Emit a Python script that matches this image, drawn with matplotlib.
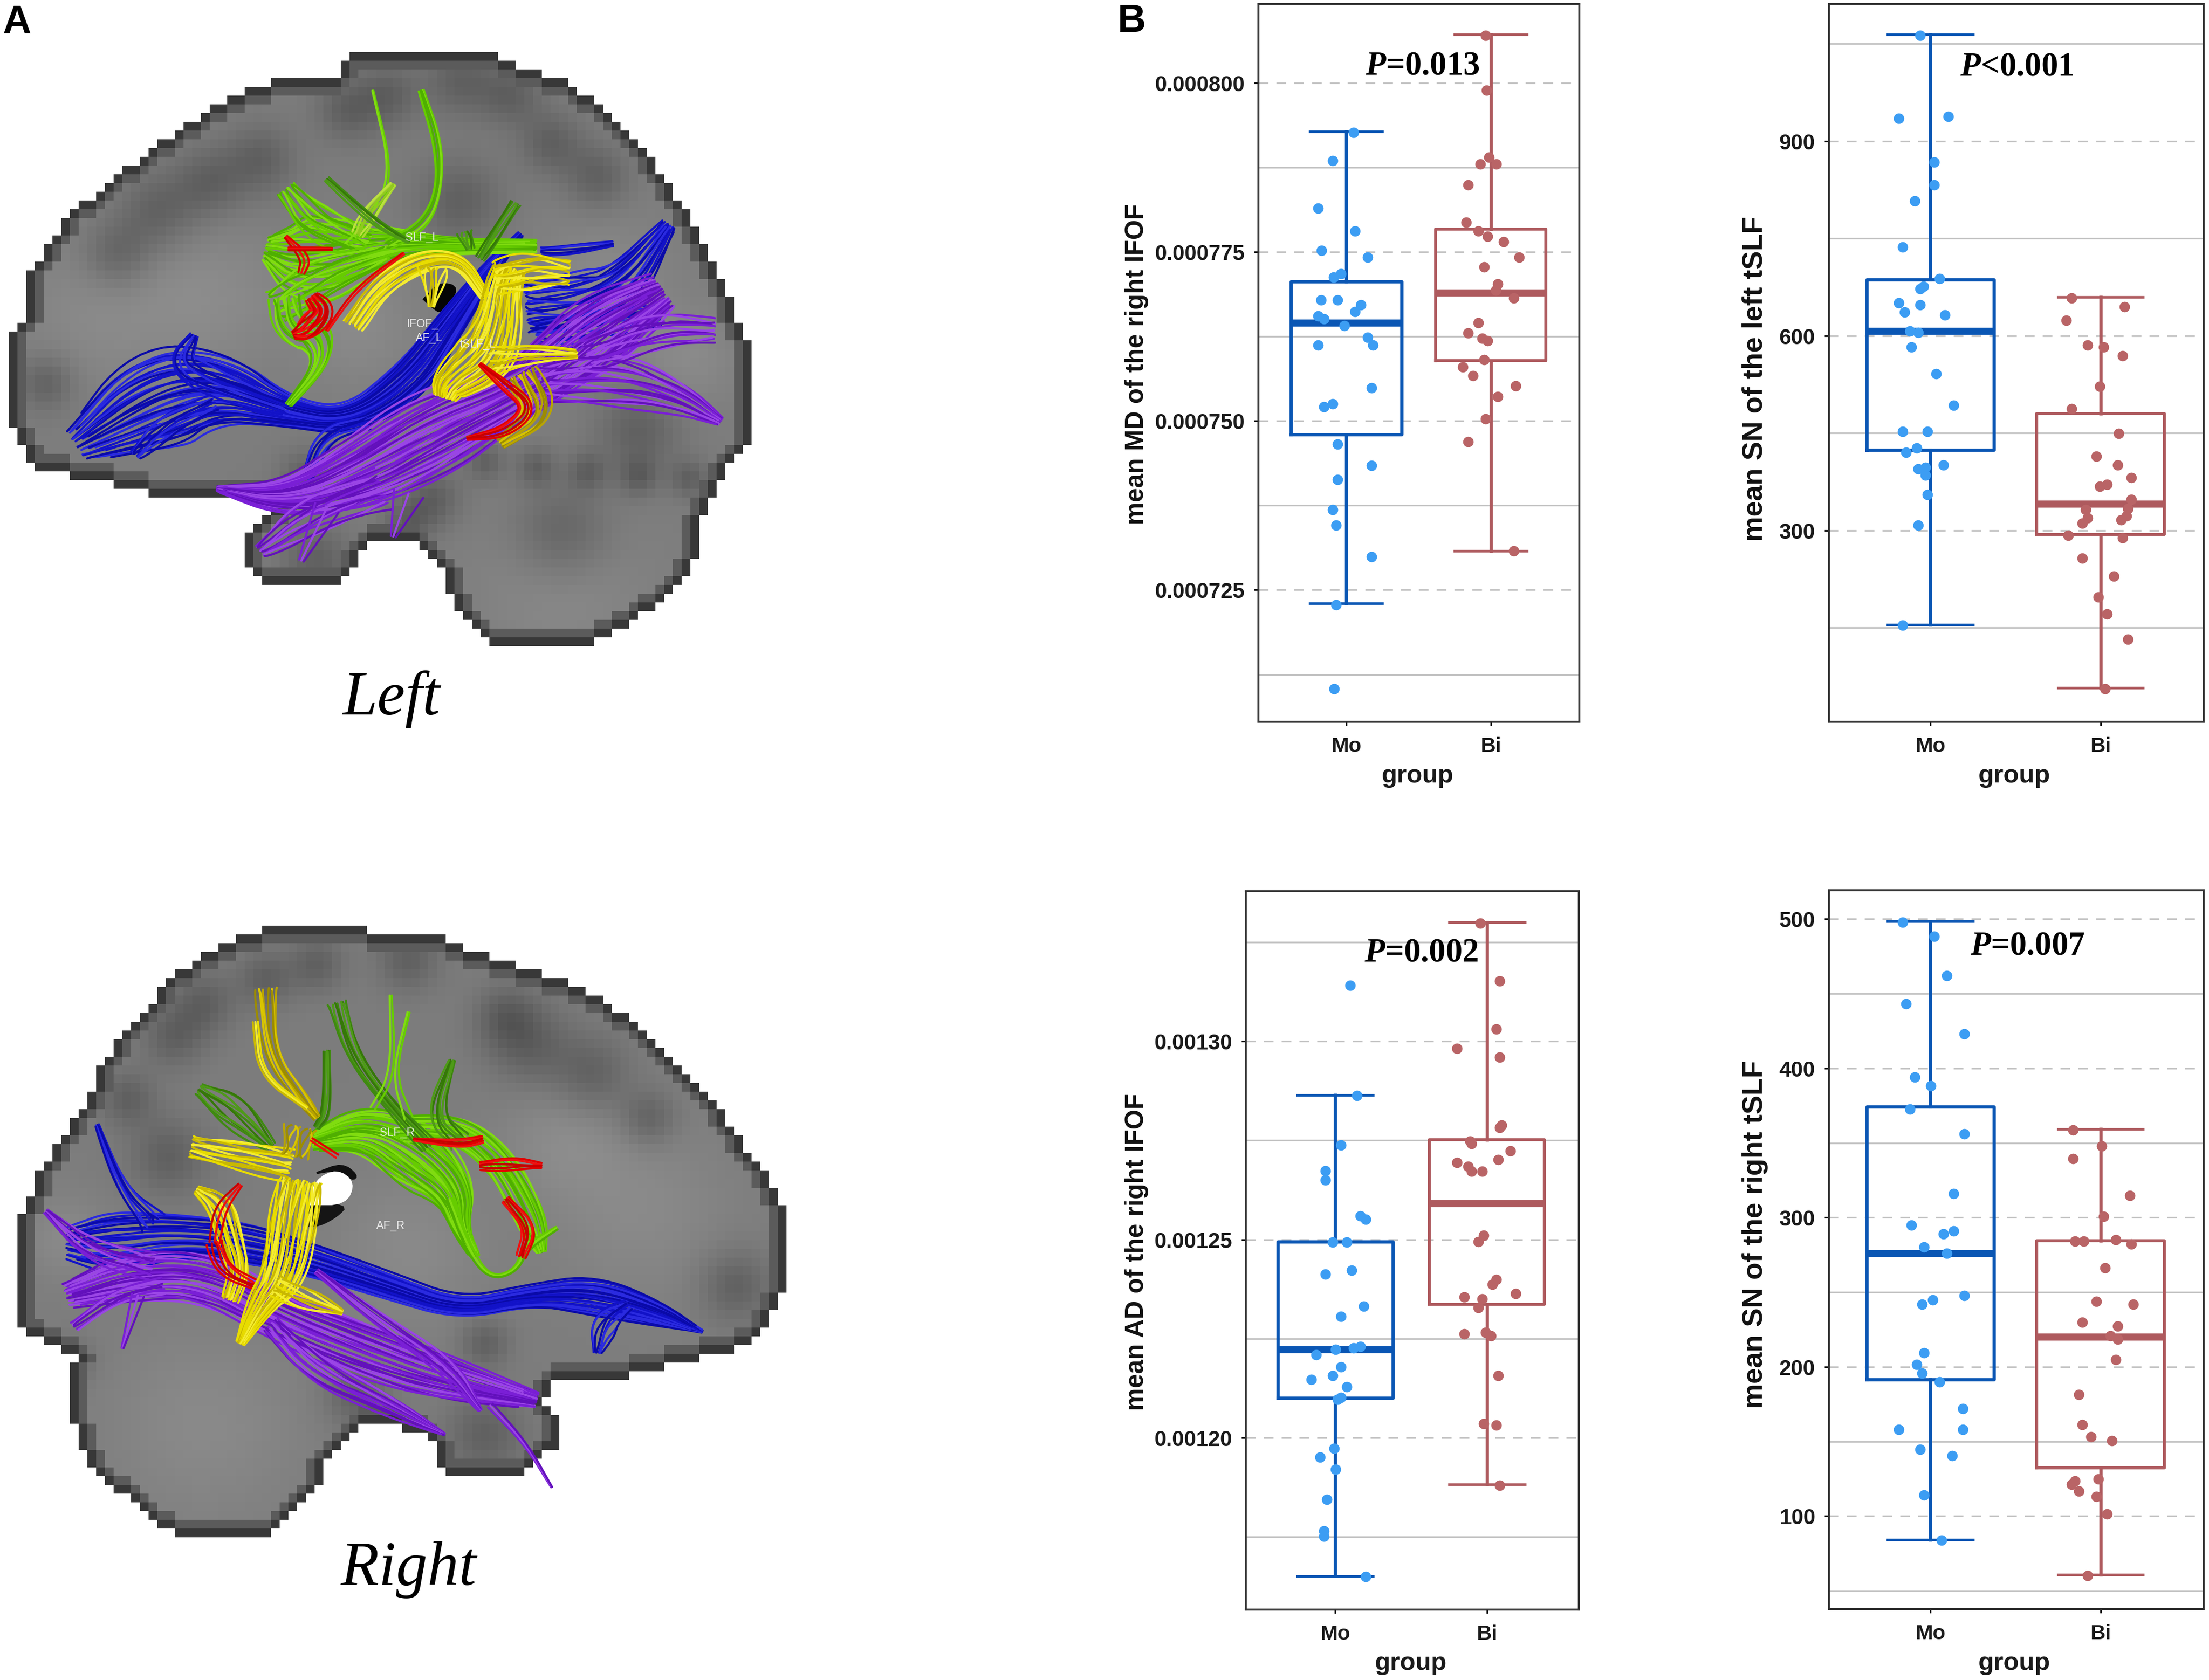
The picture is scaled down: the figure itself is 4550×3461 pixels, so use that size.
import numpy as np
import matplotlib
matplotlib.use('Agg')
import matplotlib.pyplot as plt
from matplotlib.path import Path

plt.rcParams['font.family'] = ['Liberation Sans', 'DejaVu Sans']
plt.rcParams['mathtext.fontset'] = 'custom'
plt.rcParams['mathtext.it'] = 'Liberation Serif:italic:bold'
plt.rcParams['mathtext.rm'] = 'Liberation Serif:bold'

W, H = 4550, 3462
DPI = 300

MO_LINE, MO_DOT = '#0A56B4', '#3C9DF3'
BI_LINE, BI_DOT = '#AE5A5E', '#B96466'
GRID = '#C2C2C2'

groups = ['Mo', 'Bi']

# mean MD of the right IFOF (units of 1e-6)
md_ticks = [725, 750, 775, 800]
md_ticklabels = ['0.000725', '0.000750', '0.000775', '0.000800']
md_minor = [712.5, 737.5, 762.5, 787.5]
md_ylim = [705.5, 811.7]
md_mo_box = [723.0, 748.0, 764.5, 770.6, 792.8]
md_bi_box = [730.8, 758.9, 769.0, 778.4, 807.2]
md_mo_y = [792.7, 788.5, 781.5, 778.1, 775.2, 774.2, 771.8, 771.3, 767.9, 767.9, 767.2, 766.2, 765.5, 765.1, 764.1,
           762.4, 761.2, 761.2, 754.9, 752.5, 752.1, 746.6, 743.4, 741.3, 736.9, 734.6, 729.9, 722.8, 710.4]
md_mo_jit = [.05, -.094, -.193, .061, -.169, .148, -.035, -.085, -.174, -.059, .101, .061, -.193, -.153, -.012,
             .148, -.193, .184, .174, -.094, -.155, -.059, .174, -.059, -.094, -.071, .174, -.071, -.082]
md_bi_y = [807.0, 798.9, 789.0, 788.0, 788.0, 784.9, 779.4, 778.1, 777.3, 776.5, 774.2, 772.8, 770.3, 769.3,
           768.2, 764.5, 763.0, 762.2, 761.9, 759.1, 758.0, 756.7, 755.2, 753.6, 750.3, 746.9, 730.8]
md_bi_jit = [-.035, -.028, -.012, -.073, .038, -.158, -.169, -.087, -.024, .087, .195, -.047, .047, .035,
             .16, -.087, -.158, -.059, -.024, -.047, -.195, -.122, .172, .049, -.035, -.158, .16]

# mean SN of the left tSLF
snl_ticks = [300, 600, 900]
snl_ticklabels = ['300', '600', '900']
snl_minor = [150, 450, 750, 1050]
snl_ylim = [4.9, 1111.6]
snl_mo_box = [154.9, 424.1, 607.3, 686.8, 1064.6]
snl_bi_box = [57.6, 293.5, 340.6, 480.0, 660.0]
snl_mo_y = [1063, 934.9, 938.1, 867.6, 832.7, 807.6, 737, 688.4, 676.2, 672.2, 650.3, 647.8, 636.5, 631.6, 607.3,
            604.9, 582.2, 541.6, 493, 452.4, 452.4, 427.3, 420, 400.5, 394.9, 397.3, 385.1, 355.1, 308.1, 154.1]
snl_mo_jit = [-.06, -.184, .106, .022, .022, -.09, -.162, .054, -.04, -.06, -.184, -.06, -.152, .086, -.12,
              -.07, -.11, .034, .138, -.162, -.018, -.08, -.142, .076, -.07, -.028, -.028, -.018, -.07, -.162]
snl_bi_y = [658.4, 644.6, 623.5, 585.4, 582.2, 569.2, 522.2, 487.3, 449.2, 414.3, 400.5, 381.1, 370.5, 368.1, 347.9,
            331.6, 333.3, 319.5, 321.9, 316.2, 310.6, 291.9, 288.7, 257, 229.5, 197, 171, 132.2, 55.9]
snl_bi_jit = [-.17, .14, -.2, -.076, .018, .13, -.004, -.17, .108, -.024, .1, .182, .038, -.004, .182,
              -.086, .162, -.076, .152, .12, -.108, -.19, .13, -.108, .078, -.014, .038, .162, .028]

# mean AD of the right IFOF (units of 1e-6)
ad_ticks = [1200, 1250, 1300]
ad_ticklabels = ['0.00120', '0.00125', '0.00130']
ad_minor = [1175, 1225, 1275, 1325]
ad_ylim = [1156.6, 1337.9]
ad_mo_box = [1165.1, 1210.0, 1222.2, 1249.5, 1286.4]
ad_bi_box = [1188.2, 1233.6, 1259.1, 1275.2, 1330.0]
ad_mo_y = [1314.1, 1286.3, 1273.8, 1267.4, 1265, 1256, 1255.1, 1249.3, 1249.3, 1241.2, 1242.2, 1233.2, 1230.6, 1222.2,
           1222.6, 1223, 1220.9, 1217.8, 1215.6, 1214.7, 1212.8, 1210.1, 1209.7, 1197.3, 1195.1, 1192, 1184.4,
           1176.4, 1175.1, 1164.9]
ad_mo_jit = [.097, .144, .038, -.065, -.065, .166, .202, -.018, .074, -.065, .108, .189, .038, .002,
             .119, .166, -.126, .038, -.018, -.16, .074, .038, .013, -.009, -.101, .002, -.056,
             -.076, -.076, .202]
ad_bi_y = [1329.8, 1315.2, 1303.1, 1298.2, 1296, 1278.9, 1278.2, 1274.8, 1274.2, 1272.4, 1270.2, 1269.4, 1268.4,
           1267.2, 1267.2, 1251.1, 1249.4, 1239.9, 1238.7, 1235.5, 1235, 1236.4, 1232.8, 1226.2, 1226.6, 1225.7,
           1215.6, 1203.5, 1203.1, 1188]
ad_bi_jit = [-.043, .085, .063, -.196, .085, .097, .085, -.112, -.101, .155, .074, -.196, -.124,
             -.101, -.031, -.02, -.056, .063, .038, -.148, -.031, .191, -.056, -.148, -.009, .027,
             .074, -.02, .063, .085]

# mean SN of the right tSLF
snr_ticks = [100, 200, 300, 400, 500]
snr_ticklabels = ['100', '200', '300', '400', '500']
snr_minor = [50, 150, 250, 350, 450]
snr_ylim = [37.7, 519.3]
snr_mo_box = [84.2, 191.6, 275.9, 374.4, 498.6]
snr_bi_box = [60.8, 132.4, 220.2, 284.5, 359.2]
snr_mo_y = [497.9, 488.3, 462.1, 443.2, 423.2, 394, 388.1, 372.6, 356.1, 315.9, 294.9, 289, 291.1, 280.4, 275.9,
            244.9, 241.9, 247.7, 209.5, 201.6, 195.7, 189.9, 172, 157.9, 157.9, 144.8, 140.3, 114.2, 83.9]
snr_mo_jit = [-.162, .022, .096, -.142, .2, -.09, .002, -.12, .2, .138, -.11, .076, .138, -.038, .096,
              .014, -.048, .2, -.038, -.08, -.048, .054, .19, -.184, .19, -.06, .128, -.038, .066]
snr_bi_y = [358.5, 339.6, 347.9, 314.8, 300.7, 284.2, 284.2, 285.2, 282.1, 266.3, 243.9, 241.9, 229.8, 227.4,
            220.9, 218.4, 204.7, 181.3, 161.3, 153.1, 150.6, 124.8, 123.4, 121.4, 116.6, 113.1, 101.4, 60.1]
snr_bi_jit = [-.16, -.16, .006, .172, .018, -.15, -.098, .09, .182, .028, -.024, .192, -.108, .1,
              .058, .1, .09, -.128, -.108, -.056, .068, -.014, -.15, -.17, -.128, -.024, .038, -.076]

# brain outlines and tracts, in zoomed picture coordinates
left_outline = [(10, 700), (45, 680), (45, 595), (75, 550), (105, 490), (140, 450), (190, 400), (260, 345), (330, 290),
                (395, 240), (460, 205), (530, 170), (660, 165), (660, 145), (695, 115), (975, 115), (1040, 150),
                (1110, 170), (1180, 225), (1250, 300), (1320, 400), (1370, 490), (1410, 570), (1450, 680), (1478, 735),
                (1478, 910), (1440, 950), (1380, 1060), (1360, 1170), (1320, 1230), (1250, 1290), (1140, 1355),
                (965, 1355), (900, 1280), (870, 1200), (810, 1125), (720, 1135), (670, 1215), (530, 1230), (480, 1170),
                (490, 1095), (560, 1050), (540, 1030), (300, 1035), (240, 1015), (180, 1000), (80, 980), (50, 950),
                (10, 855)]
left_dark = [(310, 440, 55), (410, 380, 50), (510, 335, 50), (230, 530, 50), (680, 230, 45), (760, 200, 45),
             (900, 170, 50), (1000, 200, 45), (1080, 300, 45), (1170, 370, 45), (900, 420, 60), (90, 800, 40),
             (1250, 900, 60), (950, 965, 28), (1050, 975, 28), (1150, 985, 28), (1250, 995, 28), (1350, 1000, 28),
             (850, 1040, 40), (620, 1170, 50), (800, 1090, 35), (1100, 1110, 70), (600, 1000, 40)]
left_light = [(200, 650, 120), (420, 620, 110), (700, 680, 90), (1350, 750, 70), (1100, 1220, 120), (1180, 600, 100)]
left_ventricle = [(830, 625), (860, 590), (900, 600), (865, 655), (845, 640)]

right_outline = [(40, 715), (60, 670), (80, 620), (120, 560), (170, 470), (210, 380), (280, 290), (350, 205), (430, 150),
                 (490, 125), (545, 105), (710, 105), (720, 125), (860, 125), (900, 150), (1000, 190), (1110, 225),
                 (1230, 300), (1340, 410), (1420, 510), (1500, 630), (1535, 690), (1535, 860), (1500, 950), (1450, 990),
                 (1230, 1050), (1090, 1060), (1060, 1100), (1090, 1130), (1090, 1190), (1030, 1250), (870, 1255),
                 (850, 1180), (800, 1160), (720, 1145), (650, 1210), (610, 1300), (530, 1380), (350, 1385), (290, 1340),
                 (190, 1250), (150, 1180), (130, 1050), (150, 1000), (90, 985), (40, 940)]
right_dark = [(330, 590, 55), (1040, 360, 60), (1160, 420, 55), (520, 220, 40), (620, 190, 40), (800, 180, 45),
              (400, 270, 45), (340, 340, 45), (250, 470, 40), (990, 300, 45), (700, 1090, 45), (950, 1170, 55),
              (1440, 860, 50), (950, 980, 35), (140, 1020, 30), (1270, 510, 40)]
right_light = [(1250, 700, 130), (800, 780, 110), (400, 1150, 140), (130, 760, 60), (1100, 550, 90)]
right_hole = [(606, 690), (618, 640), (660, 618), (694, 645), (676, 690)]
right_shadow = [(600, 735), (600, 690), (680, 692), (660, 715), (625, 735)]
right_shadow2 = [(620, 625), (670, 605), (700, 630), (690, 640), (660, 618)]

BLUE = ['#1212C8', '#0A0AA8', '#2A2AE0']
PURPLE = ['#7A1FD6', '#6310BC', '#9A45E6']
YELLOW = ['#E8DC00', '#C9B800', '#F4EC30']
OLIVE = ['#B9A400', '#9C8C00', '#D8C400']
GREEN = ['#66CC00', '#4FAF00', '#80DC10']
DGREEN = ['#3F8A10', '#4E9A18', '#357808']
LIME = ['#A8D830', '#90C820', '#BCE040']
RED = ['#E00000', '#C80000', '#F01010']

left_tracts = [
    (BLUE, 40, [(150, 930, 35), (310, 830, 110), (430, 810, 75), (560, 860, 28), (680, 880, 24), (800, 800, 38),
                (880, 680, 28), (960, 560, 14), (1020, 490, 6)]),
    (BLUE, 10, [(380, 700, 8), (350, 760, 30), (420, 800, 30), (560, 850, 15)]),
    (BLUE, 8, [(265, 950, 12), (320, 890, 25), (420, 840, 15)]),
    (BLUE, 8, [(600, 1000, 10), (630, 910, 18), (720, 880, 15)]),
    (BLUE, 22, [(1030, 640, 55), (1130, 630, 60), (1220, 600, 45), (1310, 470, 14)]),
    (BLUE, 12, [(1050, 700, 25), (1200, 680, 40), (1290, 660, 18)]),
    (BLUE, 5, [(1060, 525, 8), (1130, 520, 10), (1200, 510, 5)]),
    (GREEN, 34, [(520, 520, 25), (600, 540, 95), (720, 520, 50), (800, 510, 25), (900, 515, 14), (1050, 515, 12)]),
    (GREEN, 14, [(560, 395, 20), (620, 470, 40), (720, 510, 25)]),
    (GREEN, 14, [(540, 640, 35), (620, 590, 50), (760, 530, 20)]),
    (GREEN, 14, [(565, 845, 6), (630, 760, 14), (620, 700, 40), (570, 680, 35), (560, 620, 30)]),
    (GREEN, 2, [(730, 190, 1), (770, 370, 2), (720, 470, 6), (680, 510, 4)]),
    (GREEN, 5, [(825, 190, 5), (860, 300, 8), (860, 400, 5), (830, 470, 10), (760, 510, 10)]),
    (LIME, 6, [(770, 385, 5), (720, 450, 18), (700, 490, 10)]),
    (DGREEN, 4, [(640, 375, 6), (740, 470, 8), (800, 505, 3)]),
    (DGREEN, 6, [(1010, 425, 10), (970, 490, 12), (940, 540, 8)]),
    (DGREEN, 5, [(910, 485, 14), (920, 520, 8)]),
    (RED, 3, [(560, 495, 3), (600, 540, 10), (590, 570, 6)]),
    (RED, 3, [(565, 520, 3), (610, 520, 3), (650, 520, 2)]),
    (RED, 14, [(575, 700, 8), (600, 690, 25), (635, 650, 22), (610, 620, 12)]),
    (YELLOW, 16, [(690, 680, 20), (740, 600, 20), (820, 545, 22), (900, 540, 14), (950, 620, 8)]),
    (RED, 2, [(640, 690, 2), (700, 600, 3), (790, 530, 2)]),
    (YELLOW, 7, [(845, 640, 6), (850, 560, 28)]),
    (PURPLE, 46, [(425, 1020, 5), (560, 1040, 35), (700, 990, 70), (850, 900, 85), (990, 830, 55), (1080, 770, 60),
                  (1180, 690, 75), (1300, 610, 40)]),
    (PURPLE, 12, [(510, 1150, 14), (600, 1080, 40), (750, 1020, 40)]),
    (PURPLE, 18, [(1060, 800, 40), (1200, 790, 60), (1330, 830, 30), (1410, 880, 8)]),
    (PURPLE, 12, [(1150, 740, 30), (1280, 690, 40), (1400, 690, 22)]),
    (PURPLE, 3, [(590, 1170, 5), (640, 1060, 25)]),
    (PURPLE, 3, [(770, 1120, 5), (800, 1030, 30)]),
    (YELLOW, 32, [(1000, 560, 30), (985, 600, 35), (975, 680, 45), (950, 750, 55), (880, 800, 35), (870, 830, 20)]),
    (YELLOW, 14, [(1115, 570, 25), (1040, 565, 40), (970, 580, 30)]),
    (YELLOW, 9, [(1130, 740, 8), (1040, 740, 20), (960, 750, 30)]),
    (OLIVE, 14, [(980, 925, 12), (1065, 860, 30), (1020, 780, 30)]),
    (RED, 5, [(915, 915, 3), (990, 900, 12), (1040, 850, 14), (985, 800, 10), (940, 760, 3)]),
]

right_tracts = [
    (GREEN, 40, [(610, 560, 18), (720, 530, 50), (820, 590, 65), (890, 660, 40), (900, 740, 15), (930, 800, 8)]),
    (GREEN, 20, [(780, 530, 25), (900, 530, 28), (980, 600, 30), (1040, 720, 30), (1060, 790, 8)]),
    (DGREEN, 10, [(660, 270, 18), (690, 380, 15), (760, 480, 10), (840, 570, 15)]),
    (GREEN, 2, [(765, 255, 2), (770, 420, 5), (730, 490, 5)]),
    (GREEN, 2, [(800, 290, 2), (770, 420, 3), (800, 510, 8)]),
    (DGREEN, 8, [(885, 390, 6), (850, 510, 18), (900, 560, 20)]),
    (DGREEN, 6, [(640, 370, 6), (640, 500, 10), (620, 530, 5)]),
    (DGREEN, 10, [(390, 450, 12), (450, 490, 40), (530, 570, 10)]),
    (GREEN, 3, [(880, 680, 6), (920, 790, 6), (960, 845, 3), (1010, 830, 3), (1030, 780, 6), (1090, 740, 3)]),
    (RED, 6, [(810, 555, 2), (900, 565, 10), (945, 555, 6)]),
    (RED, 5, [(940, 610, 8), (1000, 605, 15), (1060, 610, 5)]),
    (RED, 6, [(990, 680, 8), (1040, 740, 15), (1020, 800, 8)]),
    (BLUE, 30, [(1375, 955, 3), (1280, 915, 28), (1160, 880, 40), (1040, 880, 20), (900, 910, 20), (760, 860, 25),
                (620, 810, 30), (480, 770, 40), (340, 755, 40), (220, 770, 60), (130, 770, 30)]),
    (BLUE, 8, [(190, 525, 4), (240, 660, 10), (300, 730, 25)]),
    (BLUE, 8, [(1170, 1000, 8), (1180, 940, 30), (1230, 900, 10)]),
    (PURPLE, 36, [(130, 880, 25), (260, 840, 50), (400, 840, 50), (540, 920, 45), (700, 990, 50), (860, 1050, 45),
                  (1050, 1100, 15)]),
    (PURPLE, 10, [(90, 705, 5), (180, 790, 25), (300, 820, 25)]),
    (PURPLE, 6, [(145, 945, 10), (230, 880, 15), (320, 860, 15)]),
    (PURPLE, 3, [(240, 990, 2), (270, 880, 12)]),
    (PURPLE, 14, [(530, 940, 18), (620, 1040, 30), (760, 1110, 20), (870, 1170, 2)]),
    (PURPLE, 10, [(620, 830, 5), (740, 930, 15), (880, 1030, 20), (940, 1120, 3)]),
    (PURPLE, 3, [(1080, 1280, 1), (1030, 1190, 3), (960, 1110, 6)]),
    (OLIVE, 8, [(520, 240, 22), (530, 380, 12), (590, 470, 14), (620, 510, 6)]),
    (YELLOW, 3, [(500, 310, 5), (510, 420, 5), (600, 490, 3)]),
    (YELLOW, 14, [(375, 570, 22), (470, 590, 30), (570, 610, 30)]),
    (YELLOW, 14, [(385, 660, 8), (430, 690, 30), (450, 760, 24), (470, 830, 18), (450, 890, 15)]),
    (RED, 3, [(470, 650, 4), (430, 700, 12), (420, 770, 10)]),
    (RED, 5, [(420, 770, 15), (440, 830, 15), (500, 860, 10)]),
    (YELLOW, 28, [(590, 640, 40), (575, 720, 48), (555, 840, 42), (510, 900, 24), (470, 980, 8)]),
    (YELLOW, 8, [(670, 915, 5), (600, 890, 25), (540, 860, 20)]),
    (OLIVE, 9, [(590, 530, 30), (575, 590, 25)]),
    (RED, 2, [(610, 555, 3), (660, 590, 4)]),
]


def smooth(pts, rounds=3):
    # corner cutting so the tracts do not look like polylines
    for _ in range(rounds):
        a, b = pts[:-1], pts[1:]
        q = .75 * a + .25 * b
        r = .25 * a + .75 * b
        mid = np.empty((2 * len(a), pts.shape[1]))
        mid[0::2], mid[1::2] = q, r
        pts = np.vstack([pts[:1], mid, pts[-1:]])
    return pts


def draw_brain(bg, outline, dark, light, tracts, sx, sy, y0):
    # voxel slice
    vox = 18
    xs = np.arange(0, 1650, vox) + vox / 2
    ys = np.arange(y0, y0 + 1450, vox) + vox / 2
    X, Y = np.meshgrid(xs, ys)
    poly = np.array(outline, float) * [sx, sy] + [0, y0]
    mask = Path(poly).contains_points(np.c_[X.ravel(), Y.ravel()]).reshape(X.shape)
    img = np.full(X.shape, .49)
    for bx, by, r in dark:
        d2 = (X - bx * sx) ** 2 + (Y - by * sy - y0) ** 2
        img -= .11 * np.exp(-d2 / (2 * r * r))
    for bx, by, r in light:
        d2 = (X - bx * sx) ** 2 + (Y - by * sy - y0) ** 2
        img += .05 * np.exp(-d2 / (2 * r * r))
    inner = mask.copy()
    for s in [.22, .36]:
        eroded = inner & np.roll(inner, 1, 0) & np.roll(inner, -1, 0) & np.roll(inner, 1, 1) & np.roll(inner, -1, 1)
        img[inner & ~eroded] = np.minimum(img[inner & ~eroded], s)
        inner = eroded
    rgba = np.dstack([img, img, img, mask.astype(float)])
    bg.imshow(rgba, extent=[0, xs[-1] + vox / 2, ys[-1] + vox / 2, y0], interpolation='nearest', aspect='auto', zorder=1)

    # tracts: centre line + half width at each vertex gives the strands,
    # a small wobble and uneven end trims keep them from looking ruled
    z = 2
    for cols, n, spec in tracts:
        a = np.array(spec, float)
        c = smooth(a)
        tang = np.gradient(c[:, :2], axis=0)
        tang /= np.maximum(np.linalg.norm(tang, axis=1, keepdims=True), 1e-6)
        norm = np.c_[-tang[:, 1], tang[:, 0]]
        t = np.linspace(0, 1, len(c))
        for i, k in enumerate(np.linspace(-1, 1, n) if n > 1 else [0]):
            wob = k + .16 * np.sin(t * (5 + i % 4) + i * 1.7) if n > 3 else k
            p = c[:, :2] + norm * c[:, 2:3] * np.reshape(wob, (-1, 1) if n > 3 else (1, 1))
            cut0 = int(len(p) * .10 * ((i * 37) % 11) / 11) if n > 5 else 0
            cut1 = int(len(p) * .10 * ((i * 23) % 7) / 7) if n > 5 else 0
            p = p[cut0:len(p) - cut1]
            bg.plot(p[:, 0] * sx, p[:, 1] * sy + y0, color=cols[(i * 2 + i // 3) % 3], lw=1.05, zorder=z,
                    solid_capstyle='round')
            z += .001


def box_panel(frame, ylim, ticks, ticklabels, minor, mo_box, bi_box, mo_y, mo_jit, bi_y, bi_jit,
              xlim, box_w, ylabel, lab_size, lab_x, lab_y, group_x, group_y):
    x0, y0, x1, y1 = frame
    ax = fig.add_axes([x0 / W, 1 - y1 / H, (x1 - x0) / W, (y1 - y0) / H])
    ax.set_xlim(xlim)
    ax.set_ylim(ylim)
    ax.set_yticks(ticks)
    ax.set_yticklabels(ticklabels)
    ax.set_yticks(minor, minor=True)
    ax.set_xticks([1, 2])
    ax.set_xticklabels(groups)
    ax.grid(True, which='major', axis='y', color=GRID, lw=.8, ls=(0, (6, 5)))
    ax.grid(True, which='minor', axis='y', color=GRID, lw=.8)
    ax.set_axisbelow(True)
    ax.tick_params(axis='y', which='major', length=2.2, width=.8, pad=4.5, labelsize=10.7, labelcolor='#1A1A1A')
    ax.tick_params(axis='y', which='minor', length=0)
    ax.tick_params(axis='x', length=2, width=.8, pad=5.2, labelsize=10.3, labelcolor='#1A1A1A')
    for lab in ax.get_xticklabels() + ax.get_yticklabels():
        lab.set_fontweight('bold')
    for s in ax.spines.values():
        s.set_linewidth(1.0)
        s.set_color('#333333')

    for pos, vals, col, lw_box in [(1, mo_box, MO_LINE, 1.6), (2, bi_box, BI_LINE, 1.5)]:
        stats = [dict(whislo=vals[0], q1=vals[1], med=vals[2], q3=vals[3], whishi=vals[4], fliers=[])]
        ax.bxp(stats, positions=[pos], widths=box_w, capwidths=.5, showfliers=False, manage_ticks=False,
               boxprops=dict(color=col, lw=lw_box), whiskerprops=dict(color=col, lw=1.6),
               capprops=dict(color=col, lw=1.3), medianprops=dict(color=col, lw=3.5, solid_capstyle='butt'))
    ax.scatter(1 + np.array(mo_jit), mo_y, s=27, color=MO_DOT, linewidths=0, zorder=4)
    ax.scatter(2 + np.array(bi_jit), bi_y, s=27, color=BI_DOT, linewidths=0, zorder=4)

    ax.set_ylabel(ylabel, fontsize=lab_size, fontweight='bold', color='#111111', va='center')
    ax.yaxis.set_label_coords((lab_x - x0) / (x1 - x0), (y1 - lab_y) / (y1 - y0))
    ax.set_xlabel('group', fontsize=12.6, fontweight='bold', color='#1A1A1A', va='center')
    ax.xaxis.set_label_coords((group_x - x0) / (x1 - x0), (y1 - group_y) / (y1 - y0))
    return ax


fig = plt.figure(figsize=(W / DPI, H / DPI), dpi=DPI, facecolor='white')

bg = fig.add_axes([0, 0, 1, 1])
bg.set_xlim(0, W)
bg.set_ylim(H, 0)
bg.axis('off')

SX, SY = 1.052, .988
draw_brain(bg, left_outline, left_dark, left_light, left_tracts, SX, SY, 0)
draw_brain(bg, right_outline, right_dark, right_light, right_tracts, SX, SY, 1800)
for shape, y_off, col in [(left_ventricle, 0, '#050505'), (right_shadow, 1800, '#151515'),
                          (right_shadow2, 1800, '#101010'), (right_hole, 1800, 'white')]:
    closed = np.array(shape + shape[:1], float)
    s = smooth(closed, 2) * [SX, SY] + [0, y_off]
    bg.fill(s[:, 0], s[:, 1], color=col, zorder=1.5)

bg.set_xlim(0, W)
bg.set_ylim(H, 0)

for tx, ty, s in [(826, 495, 'SLF_L'), (828, 676, 'IFOF_'), (840, 705, 'AF_L'), (935, 718, 'tSLF_L')]:
    bg.text(tx * SX, ty * SY, s, color='#E8E8E8', fontsize=5.6, ha='center', va='center', zorder=10)
for tx, ty, s in [(778, 540, 'SLF_R'), (765, 734, 'AF_R')]:
    bg.text(tx * SX, 1800 + ty * SY, s, color='#E8E8E8', fontsize=5.6, ha='center', va='center', zorder=10)

bg.text(806, 1472, 'Left', family='Liberation Serif', style='italic', fontsize=31, ha='center', va='baseline')
bg.text(842, 3265, 'Right', family='Liberation Serif', style='italic', fontsize=31, ha='center', va='baseline')
bg.text(6, 68, 'A', fontsize=19.5, fontweight='bold', ha='left', va='baseline', color='black')
bg.text(2302, 66, 'B', fontsize=19.5, fontweight='bold', ha='left', va='baseline', color='black')

box_panel((2592, 9, 3253, 1488), md_ylim, md_ticks, md_ticklabels, md_minor, md_mo_box, md_bi_box,
          md_mo_y, md_mo_jit, md_bi_y, md_bi_jit, (.393, 2.612), .764,
          'mean MD of the right IFOF', 12.7, 2341, 750, 2920, 1599)
box_panel((3767, 9, 4539, 1488), snl_ylim, snl_ticks, snl_ticklabels, snl_minor, snl_mo_box, snl_bi_box,
          snl_mo_y, snl_mo_jit, snl_bi_y, snl_bi_jit, (.404, 2.606), .748,
          'mean SN of the left tSLF', 13.9, 3615, 780, 4149, 1599)
box_panel((2566, 1837, 3252, 3317), ad_ylim, ad_ticks, ad_ticklabels, ad_minor, ad_mo_box, ad_bi_box,
          ad_mo_y, ad_mo_jit, ad_bi_y, ad_bi_jit, (.409, 2.607), .758,
          'mean AD of the right IFOF', 12.7, 2341, 2579, 2906, 3427)
box_panel((3767, 1835, 4539, 3316), snr_ylim, snr_ticks, snr_ticklabels, snr_minor, snr_mo_box, snr_bi_box,
          snr_mo_y, snr_mo_jit, snr_bi_y, snr_bi_jit, (.404, 2.606), .748,
          'mean SN of the right tSLF', 14, 3615, 2543, 4149, 3427)

for px, py, s in [(2930, 136, '$P$=0.013'), (4154, 139, '$P$<0.001'), (2927, 1964, '$P$=0.002'), (4176, 1950, '$P$=0.007')]:
    fig.text(px / W, 1 - py / H, s, family='Liberation Serif', fontweight='bold', fontsize=16.5,
             ha='center', va='center', color='black', zorder=20)

fig.savefig('out.png', dpi=DPI)
